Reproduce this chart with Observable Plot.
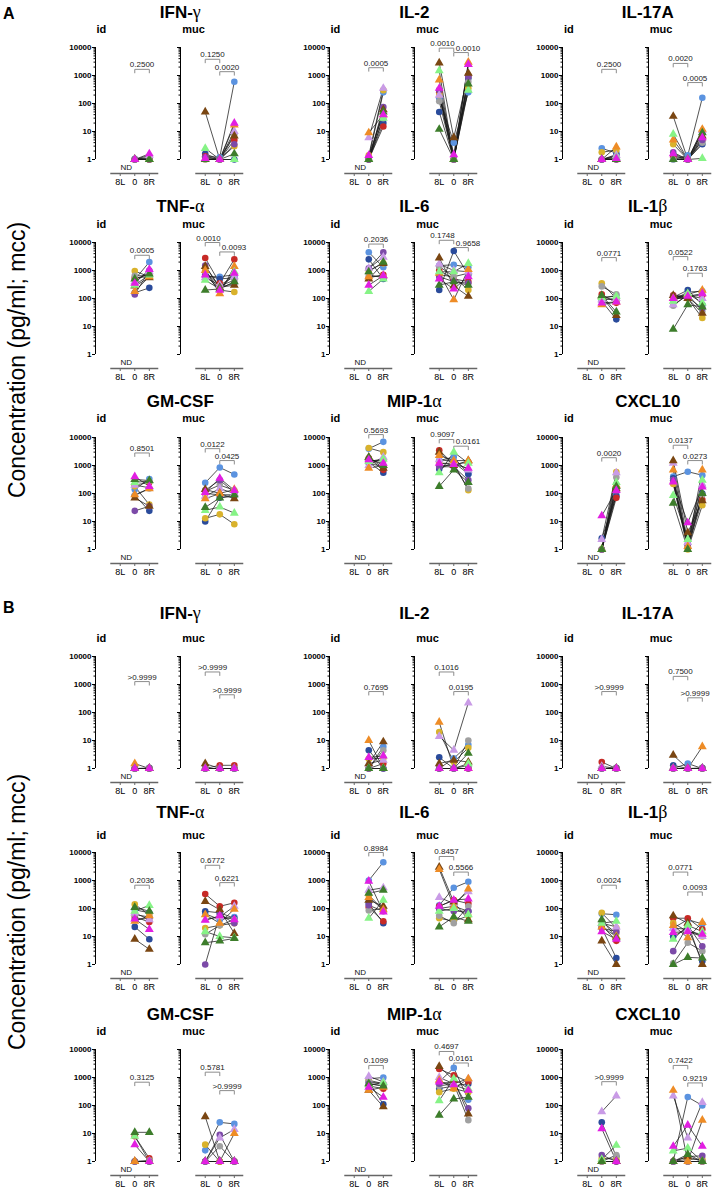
<!DOCTYPE html>
<html><head><meta charset="utf-8">
<script src="https://cdn.jsdelivr.net/npm/d3@7"></script>
<script src="https://cdn.jsdelivr.net/npm/@observablehq/plot@0.6"></script>
<style>
body{margin:0;background:#fff;}
#root{position:relative;width:714px;height:1190px;overflow:hidden;font-family:"Liberation Sans",Arial,Helvetica,sans-serif;color:#000;}
.abs{position:absolute;white-space:nowrap;line-height:1;}
.title{font-weight:bold;font-size:17px;transform:translate(-50%,-50%);}
.sub{font-weight:bold;font-size:11px;transform:translateY(-50%);}
.panel{font-weight:bold;font-size:16px;transform:translateY(-50%);}
.ylab{font-size:23px;transform:translate(-50%,-50%) rotate(-90deg);}
.greek{font-family:"Liberation Serif","DejaVu Serif",serif;font-weight:normal;font-size:18px;}
svg{overflow:visible;}
</style></head>
<body><div id="root"></div>
<script>
// ---------- categories / labels ----------
const timepoints = ["8L", "0", "8R"];
const sites = ["id", "muc"];
const cytokines = ["IFN-γ", "IL-2", "IL-17A", "TNF-α", "IL-6", "IL-1β", "GM-CSF", "MIP-1α", "CXCL10"];
const panels = ["A", "B"];
const yTicks = [1, 10, 100, 1000, 10000];
const yAxisTitle = "Concentration (pg/ml; mcc)";
const ndLabel = "ND";

// subjects (donors): marker colour and shape
const subjectColors = ["#5b93e0", "#2a4b9b", "#c72a26", "#d9b22c", "#a0a0a0", "#7c4aa8",
                       "#c99be6", "#7a4612", "#ee8c26", "#86f386", "#3d7d2b", "#e21ee2"];
const subjectShapes = ["circle", "circle", "circle", "circle", "circle", "circle",
                       "triangle", "triangle", "triangle", "triangle", "triangle", "triangle"];

// ---------- Panel A values [8L, 0, 8R] per subject ----------
const A_IFNg_id = [[null,1.05,1.1],[null,1,1],[null,1,1],[null,1,1],[null,1,1.2],[null,1,1],[null,1,1.4],[null,1,1],[null,1,1],[null,1,1],[null,1,1],[null,1,1.6]];
const A_IFNg_muc = [[1.3,1.2,600],[1.6,1,1],[1.3,1,5],[1,1,3],[1,1,8],[1.2,1,3.5],[1,1,10],[50,1,7],[1,1,17],[2.5,1,1],[1,1,1.6],[1.1,1,20]];
const A_IL2_id = [[null,1.2,250],[null,1,20],[null,1,15],[null,1.4,300],[null,1,30],[null,1,75],[null,6,350],[null,1,60],[null,9,40],[null,1,30],[null,1,50],[null,1.4,40]];
const A_IL2_muc = [[150,4,250],[50,1,800],[250,1,1000],[200,1,350],[120,1,600],[300,1,900],[200,1,2500],[2800,6,1200],[700,1,3000],[1500,1,300],[12,1,500],[350,1.5,2500]];
const A_IL17_id = [[null,2.5,1.7],[null,1,1.5],[null,1,1],[null,1.8,2.2],[null,1,1.3],[null,1,1],[null,1,1.4],[null,1,1],[null,1,2.8],[null,1,1.2],[null,1,1],[null,1,1.1]];
const A_IL17_muc = [[1,1.4,160],[1.4,1,3.5],[1.2,1,9],[3.5,1,5],[1,1,4],[1.8,1,5],[1,1,11],[35,1,7],[5,1,12],[8,1,1.1],[1,1,9],[1.6,1,6]];
const A_TNF_id = [[null,480,2000],[null,160,240],[null,550,600],[null,950,600],[null,650,650],[null,140,1000],[null,400,900],[null,280,550],[null,180,600],[null,300,700],[null,500,750],[null,350,1100]];
const A_TNF_muc = [[600,600,700],[700,500,550],[2800,350,2500],[1000,200,170],[900,280,450],[1500,250,350],[550,300,600],[1400,250,300],[1000,150,1400],[450,220,900],[200,220,400],[700,200,800]];
const A_IL6_id = [[null,4500,1300],[null,2500,500],[null,550,700],[null,1000,1800],[null,700,550],[null,1200,4500],[null,1200,3000],[null,500,1800],[null,600,650],[null,180,500],[null,900,2000],[null,300,650]];
const A_IL6_muc = [[1500,1600,1300],[200,5000,700],[1000,500,400],[700,600,200],[1400,600,800],[600,400,350],[1700,1000,900],[2800,280,120],[800,90,1100],[900,900,1800],[300,400,300],[500,220,600]];
const A_IL1b_id = [[null,100,130],[null,80,18],[null,140,70],[null,350,100],[null,270,140],[null,100,90],[null,90,100],[null,120,25],[null,60,75],[null,110,120],[null,130,33],[null,70,75]];
const A_IL1b_muc = [[90,170,180],[110,200,60],[130,120,130],[100,100,20],[55,140,35],[120,110,45],[60,130,100],[130,100,30],[100,140,200],[80,150,70],[8,60,50],[100,120,150]];
const A_GM_id = [[null,140,330],[null,85,24],[null,200,250],[null,180,40],[null,85,150],[null,24,35],[null,200,160],[null,70,35],[null,90,150],[null,250,280],[null,320,290],[null,400,180]];
const A_GM_muc = [[240,850,480],[10,70,80],[100,90,90],[13,18,8],[120,200,130],[130,300,110],[80,150,100],[140,100,65],[65,100,140],[25,33,20],[32,70,90],[110,350,130]];
const A_MIP_id = [[null,4000,7000],[null,1300,550],[null,1800,700],[null,4200,3000],[null,1500,1500],[null,1200,900],[null,1000,2000],[null,2000,800],[null,800,1000],[null,1400,1700],[null,1900,1000],[null,1600,1200]];
const A_MIP_muc = [[1500,2000,500],[750,1300,500],[3500,1100,1300],[1200,1200,130],[1000,1000,150],[900,900,300],[1600,1400,700],[3000,1000,1500],[2300,1500,1500],[550,3000,1200],[180,700,250],[1200,1100,800]];
const A_CX_id = [[null,1,90],[null,2.5,80],[null,1,70],[null,1,580],[null,1,380],[null,1,120],[null,2.3,550],[null,1,150],[null,1,200],[null,1,250],[null,1,180],[null,16,130]];
const A_CX_muc = [[400,600,450],[350,1.5,100],[250,1.2,60],[220,1,38],[300,1.3,90],[300,1.5,180],[1200,1.8,200],[1500,4,55],[700,1.3,700],[85,2.3,300],[45,1,100],[260,9,170]];

// ---------- Panel B values ----------
const B_IFNg_id = [[null,1,1],[null,1,1.05],[null,1,1],[null,1,1],[null,1,1],[null,1,1],[null,1,1],[null,1,1],[null,1.5,1],[null,1,1],[null,1,1],[null,1,1]];
const B_IFNg_muc = [[1,1,1],[1,1,1],[1,1.3,1.3],[1,1,1],[1,1,1],[1,1,1],[1,1,1],[1.5,1,1],[1,1,1],[1,1,1],[1,1,1],[1,1,1]];
const B_IL2_id = [[null,1,6],[null,4.5,1],[null,1,1.5],[null,2.2,2.3],[null,1,4.5],[null,1,1],[null,1.5,2],[null,1.5,9],[null,10,1],[null,1,1],[null,1,1],[null,2.5,2.8]];
const B_IL2_muc = [[1,2.3,7],[2.5,1,1.3],[1,1,1],[20,1.7,5.5],[1,1,10],[1,1,1],[14,4.5,220],[1.5,2,1.7],[45,1,1],[1,1,1.5],[1,1,3.5],[1,1,1]];
const B_IL17_id = [[null,1,1],[null,1,1.05],[null,1.7,1],[null,1,1],[null,1,1],[null,1,1],[null,1.2,1],[null,1,1],[null,1,1],[null,1,1],[null,1,1],[null,1,1]];
const B_IL17_muc = [[1,1.5,1],[1.3,1,1.05],[1,1,1],[1,1,1],[1,1,1],[1,1,1],[1,1,1],[3,1,1],[1,1,6],[1,1,1],[1,1,1],[1,1,1]];
const B_TNF_id = [[null,90,70],[null,22,8],[null,50,33],[null,140,60],[null,60,50],[null,40,45],[null,70,40],[null,8,3.5],[null,35,55],[null,80,130],[null,110,80],[null,42,18]];
const B_TNF_muc = [[65,40,50],[80,70,45],[330,120,160],[20,25,30],[12,25,40],[1,60,30],[40,50,120],[180,90,13],[60,30,95],[15,10,9],[6,7,8.5],[38,55,40]];
const B_IL6_id = [[null,1000,4500],[null,150,30],[null,110,35],[null,300,90],[null,85,100],[null,130,80],[null,450,550],[null,200,120],[null,250,90],[null,45,200],[null,350,450],[null,950,75]];
const B_IL6_muc = [[130,550,900],[100,120,80],[120,200,150],[45,35,55],[55,30,120],[100,80,80],[250,150,400],[3000,170,40],[2500,120,500],[80,100,60],[22,50,35],[120,200,220]];
const B_IL1b_id = [[null,65,60],[null,20,1.7],[null,25,7],[null,70,20],[null,35,13],[null,20,15],[null,30,22],[null,7,1],[null,22,10],[null,30,35],[null,40,9],[null,15,8]];
const B_IL1b_muc = [[20,40,28],[10,20,1.3],[45,45,18],[30,15,10],[1.1,6,3],[3,25,4.5],[20,18,10],[55,30,1],[25,9,32],[8,25,15],[1,1.8,1.7],[14,15,12]];
const B_GM_id = [[null,1,1],[null,1,1],[null,8,1.3],[null,1,1],[null,1,1.1],[null,1,1],[null,1,1],[null,1,1],[null,1,1],[null,8,1],[null,11,11],[null,4,1]];
const B_GM_muc = [[2.5,25,22],[1,1,1],[1,1,1],[4,1,1],[1,3.5,1],[1,9,1],[1,7,14],[40,1,1],[1,1,10],[1,1,1],[1,1,1],[1,1,1]];
const B_MIP_id = [[null,900,1000],[null,700,110],[null,500,400],[null,800,600],[null,700,600],[null,600,500],[null,1100,700],[null,350,90],[null,350,450],[null,550,650],[null,600,500],[null,450,200]];
const B_MIP_muc = [[700,2200,160],[400,500,600],[2000,1200,700],[300,400,300],[500,600,30],[600,700,80],[1000,600,900],[2500,800,50],[800,400,900],[150,900,400],[45,170,200],[700,550,350]];
const B_CX_id = [[null,1,1],[null,25,1.5],[null,1,1],[null,1.3,1.2],[null,1,1.7],[null,1.7,1],[null,60,220],[null,1,1],[null,1,1],[null,1.2,3.8],[null,1,1],[null,15,1]];
const B_CX_muc = [[1,200,100],[1,1,1],[1,1,1],[1,1.2,1.2],[1,1,1],[1,1.5,1.6],[220,7,130],[1,1.5,1],[350,1,30],[2.4,3,1],[1,1.8,1],[3.5,20,3.5]];

// ---------- p-values (labels and bracket levels, pg/ml) ----------
const A_pText = [["0.2500"],["0.1250","0.0020"],["0.0005"],["0.0010","0.0010"],["0.2500"],["0.0020","0.0005"],
  ["0.0005"],["0.0010","0.0093"],["0.2036"],["0.1748","0.9658"],["0.0771"],["0.0522","0.1763"],
  ["0.8501"],["0.0122","0.0425"],["0.5693"],["0.9097","0.0161"],["0.0020"],["0.0137","0.0273"]];
const A_pLevel = [[1660],[3800,1370],[1900],[9500,6600],[1660],[2700,560],
  [3500],[10000,4600],[8800],[12000,6600],[2900],[3150,800],
  [2800],[4000,1500],[12700],[8500,4900],[1900],[5300,1500]];
const B_pText = [[">0.9999"],[">0.9999",">0.9999"],["0.7695"],["0.1016","0.0195"],[">0.9999"],["0.7500",">0.9999"],
  ["0.2036"],["0.6772","0.6221"],["0.8984"],["0.8457","0.5566"],["0.0024"],["0.0771","0.0093"],
  ["0.3125"],["0.5781",">0.9999"],["0.1099"],["0.4697","0.0161"],[">0.9999"],["0.7422","0.9219"]];
const B_pLevel = [[1270],[2800,430],[560],[2800,560],[560],[1950,335],
  [680],[3500,840],[10000],[7200,2000],[680],[2000,390],
  [680],[1550,340],[2700],[8500,3300],[710],[2700,640]];

const A_values = [A_IFNg_id,A_IFNg_muc,A_IL2_id,A_IL2_muc,A_IL17_id,A_IL17_muc,A_TNF_id,A_TNF_muc,A_IL6_id,A_IL6_muc,A_IL1b_id,A_IL1b_muc,A_GM_id,A_GM_muc,A_MIP_id,A_MIP_muc,A_CX_id,A_CX_muc];
const B_values = [B_IFNg_id,B_IFNg_muc,B_IL2_id,B_IL2_muc,B_IL17_id,B_IL17_muc,B_TNF_id,B_TNF_muc,B_IL6_id,B_IL6_muc,B_IL1b_id,B_IL1b_muc,B_GM_id,B_GM_muc,B_MIP_id,B_MIP_muc,B_CX_id,B_CX_muc];

// ---------- layout ----------
const FONT = '"Liberation Sans", Arial, Helvetica, sans-serif';
const colX = [94.5, 328.5, 562];
const mucOffset = 85.8;
const rowTop = [46.7, 241.7, 437.3, 656, 851.7, 1049];
const titleY = [12, 206, 401, 613, 812, 1014];
const subY = [29, 224, 418, 638, 835, 1031];
const panelY = [14, 608];
const yLabY = [360, 912];
const minorTicks = [];
for (let k = 0; k < 4; k++) for (let m = 2; m <= 9; m++) minorTicks.push(m * Math.pow(10, k));

const root = document.getElementById("root");
function addDiv(cls, html, left, top) {
  const d = document.createElement("div");
  d.className = "abs " + cls;
  d.innerHTML = html;
  d.style.left = left + "px";
  d.style.top = top + "px";
  root.appendChild(d);
  return d;
}
function greekify(t) { return t.replace(/([α-ω])/g, '<span class="greek">$1</span>'); }

function makeSub(vals, pTxt, pLev, site) {
  const rows = [];
  vals.forEach((v, s) => v.forEach((y, i) => { if (y != null) rows.push({s, i, y}); }));
  const pairs = site === "id" ? [[1, 2]] : [[0, 1], [1, 2]];
  // when two brackets sit close in height, their labels are pushed apart sideways
  const close = pLev.length === 2 && pLev[0] / pLev[1] < 2.2;
  const br = pairs.map(([a, b], k) => ({a, b, y: pLev[k], t: pTxt[k], dx: close ? (k === 0 ? -4 : 7) : 0}));
  const drop = Math.pow(10, -3.5 / 28);
  const brPath = br.flatMap((d, k) => [{k, x: d.a, y: d.y * drop}, {k, x: d.a, y: d.y}, {k, x: d.b, y: d.y}, {k, x: d.b, y: d.y * drop}]);
  const marks = [
    Plot.ruleX([-1.7], {y1: 1, y2: 10000, stroke: "#000", strokeWidth: 1}),
    Plot.axisY({ticks: yTicks, tickSize: 3, tickPadding: 1, tickFormat: site === "id" ? (d => String(d)) : (() => ""), fontSize: 8, fontWeight: "bold", label: null, stroke: "#000"}),
    Plot.axisY({ticks: minorTicks, tickSize: 1.5, tickFormat: () => "", label: null, stroke: "#000"}),
    Plot.ruleY([Math.pow(10, -0.5)], {x1: -0.65, x2: 2.65, stroke: "#666", strokeWidth: 1.4}),
    Plot.axisX({ticks: [0, 1, 2], tickFormat: i => timepoints[i], tickSize: 3, tickPadding: 2, fontSize: 9, label: null, stroke: "#666"}),
    Plot.line(brPath, {x: "x", y: "y", z: "k", stroke: "#8c8c8c", strokeWidth: 1})
  ];
  br.forEach(d => marks.push(Plot.text([d], {x: e => (e.a + e.b) / 2, y: "y", text: "t", dx: d.dx, dy: -2, lineAnchor: "bottom", fontSize: 8, fill: "#222"})));
  marks.push(Plot.line(rows, {x: "i", y: "y", z: "s", stroke: "#1a1a1a", strokeWidth: 0.75}));
  subjectColors.forEach((c, s) => {
    marks.push(Plot.dot(rows.filter(d => d.s === s), {x: "i", y: "y", r: 3.3, fill: c, symbol: subjectShapes[s]}));
  });
  if (site === "id") marks.push(Plot.text([ndLabel], {x: () => 0, text: d => d, frameAnchor: "bottom", dy: -6, dx: 6, fontSize: 8, lineAnchor: "middle", fill: "#111"}));
  return Plot.plot({
    width: 100, height: 160, marginLeft: 30, marginRight: 6, marginTop: 14, marginBottom: 20,
    x: {type: "linear", domain: [-1.7, 2.7], axis: null},
    y: {type: "log", domain: [1, 10000], range: [126, 14], axis: null},
    style: {background: "transparent", overflow: "visible", fontFamily: FONT},
    marks
  });
}

panels.forEach((p, pi) => {
  const values = pi === 0 ? A_values : B_values;
  const pText = pi === 0 ? A_pText : B_pText;
  const pLevel = pi === 0 ? A_pLevel : B_pLevel;
  addDiv("panel", p, 3, panelY[pi]);
  addDiv("ylab", yAxisTitle, 17, yLabY[pi]);
  cytokines.forEach((cy, ci) => {
    const r = pi * 3 + Math.floor(ci / 3);
    const c = ci % 3;
    const x0 = colX[c];
    addDiv("title", greekify(cy), x0 + mucOffset, titleY[r]);
    sites.forEach((site, si) => {
      const ax = x0 + si * mucOffset;
      addDiv("sub", site, ax + 2, subY[r]);
      const k = ci * 2 + si;
      const svg = makeSub(values[k], pText[k], pLevel[k], site);
      svg.style.position = "absolute";
      svg.style.left = (ax - 30) + "px";
      svg.style.top = (rowTop[r] - 14) + "px";
      root.appendChild(svg);
    });
  });
});
</script></body></html>
